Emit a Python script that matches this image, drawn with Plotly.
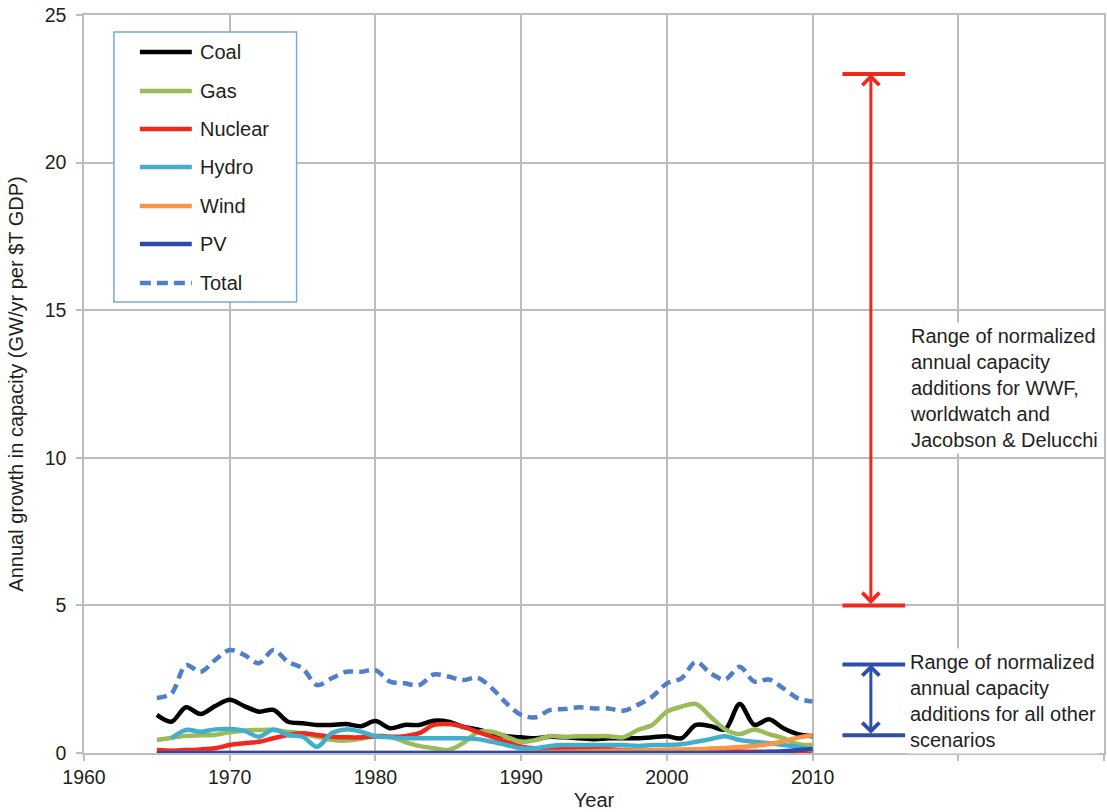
import plotly.graph_objects as go

# ---- data -------------------------------------------------------------
years = list(range(1965, 2011))

coal = [1.29, 1.06, 1.55, 1.32, 1.59, 1.80, 1.59, 1.40, 1.46, 1.06,
        1.01, 0.95, 0.95, 0.98, 0.91, 1.08, 0.84, 0.95, 0.95, 1.09,
        1.06, 0.89, 0.80, 0.67, 0.57, 0.53, 0.50, 0.55, 0.53, 0.50,
        0.47, 0.50, 0.50, 0.50, 0.53, 0.57, 0.50, 0.95, 0.91, 0.80,
        1.66, 0.95, 1.14, 0.84, 0.64, 0.57]

gas = [0.44, 0.52, 0.58, 0.60, 0.62, 0.70, 0.76, 0.78, 0.78, 0.72,
       0.66, 0.55, 0.45, 0.42, 0.48, 0.58, 0.55, 0.38, 0.24, 0.16,
       0.10, 0.33, 0.70, 0.72, 0.55, 0.38, 0.44, 0.57, 0.55, 0.57,
       0.57, 0.57, 0.53, 0.78, 0.95, 1.40, 1.57, 1.66, 1.23, 0.80,
       0.64, 0.80, 0.64, 0.50, 0.30, 0.27]

nuclear = [0.10, 0.08, 0.10, 0.12, 0.16, 0.27, 0.33, 0.38, 0.50, 0.61,
           0.67, 0.61, 0.55, 0.53, 0.53, 0.57, 0.55, 0.57, 0.67, 0.95,
           0.98, 0.89, 0.72, 0.55, 0.38, 0.21, 0.16, 0.12, 0.16, 0.19,
           0.16, 0.13, 0.10, 0.08, 0.07, 0.07, 0.06, 0.06, 0.05, 0.05,
           0.05, 0.04, 0.04, 0.03, 0.02, 0.00]

hydro = [None, 0.50, 0.78, 0.72, 0.80, 0.81, 0.75, 0.55, 0.80, 0.61,
         0.55, 0.21, 0.67, 0.80, 0.72, 0.57, 0.53, 0.50, 0.50, 0.50,
         0.50, 0.50, 0.47, 0.38, 0.27, 0.16, 0.16, 0.24, 0.27, 0.27,
         0.27, 0.27, 0.27, 0.24, 0.27, 0.27, 0.30, 0.38, 0.47, 0.57,
         0.44, 0.38, 0.33, 0.27, 0.21, 0.08]

wind = [0.00, 0.00, 0.00, 0.00, 0.00, 0.00, 0.00, 0.00, 0.00, 0.00,
        0.00, 0.00, 0.00, 0.00, 0.00, 0.00, 0.00, 0.00, 0.00, 0.00,
        0.00, 0.00, 0.00, 0.00, 0.00, 0.01, 0.02, 0.03, 0.04, 0.05,
        0.06, 0.07, 0.08, 0.09, 0.10, 0.11, 0.12, 0.13, 0.15, 0.17,
        0.20, 0.24, 0.30, 0.40, 0.52, 0.60]

pv = [0.00, 0.00, 0.00, 0.00, 0.00, 0.00, 0.00, 0.00, 0.00, 0.00,
      0.00, 0.00, 0.00, 0.00, 0.00, 0.00, 0.00, 0.00, 0.00, 0.00,
      0.00, 0.00, 0.00, 0.00, 0.00, 0.00, 0.00, 0.00, 0.00, 0.00,
      0.00, 0.00, 0.00, 0.00, 0.00, 0.00, 0.00, 0.00, 0.00, 0.00,
      0.00, 0.01, 0.03, 0.06, 0.10, 0.14]

total = [1.86, 2.02, 2.98, 2.75, 3.15, 3.49, 3.32, 3.04, 3.49, 3.09,
         2.87, 2.30, 2.53, 2.75, 2.75, 2.81, 2.42, 2.36, 2.30, 2.66,
         2.59, 2.47, 2.55, 2.19, 1.68, 1.29, 1.21, 1.46, 1.49, 1.55,
         1.51, 1.51, 1.43, 1.63, 1.91, 2.36, 2.53, 3.09, 2.70, 2.49,
         2.92, 2.42, 2.49, 2.19, 1.85, 1.74]

series_names = ["Coal", "Gas", "Nuclear", "Hydro", "Wind", "PV", "Total"]
series_values = [coal, gas, nuclear, hydro, wind, pv, total]

# scenario ranges (GW/yr per $T GDP)
wwf_range = [5.0, 23.0]
other_range = [0.6, 3.0]

wwf_label = ["Range of normalized", "annual capacity", "additions for WWF,",
             "worldwatch and", "Jacobson & Delucchi"]
other_label = ["Range of normalized", "annual capacity",
               "additions for all other", "scenarios"]

x_tick_vals = [1960, 1970, 1980, 1990, 2000, 2010, 2020, 2030]
x_tick_text = ["1960", "1970", "1980", "1990", "2000", "2010", "", ""]

# ---- styling ----------------------------------------------------------
colors = {
    "Coal": "#000000",
    "Gas": "#9BBB59",
    "Nuclear": "#F0281E",
    "Hydro": "#43AECB",
    "Wind": "#F79646",
    "PV": "#2E4AA6",
    "Total": "#4F7FC7",
}
dashes = {name: "solid" for name in series_names}
dashes["Total"] = "10px,6px"

RED = "#F0281E"
BLUE = "#2F4EAA"
GRID = "#BDBDBD"
TEXT = "#231F20"
FONT = "Liberation Sans, Arial, Helvetica, sans-serif"

W, H = 1107, 812
ML, MR, MT, MB = 84, 1, 15, 59
PW, PH = W - ML - MR, H - MT - MB


def px_x(px):
    return (px - ML) / PW


def px_y(py):
    return (H - MB - py) / PH


fig = go.Figure()

for name, vals in zip(series_names, series_values):
    fig.add_trace(go.Scatter(
        x=years, y=vals, name=name, mode="lines",
        line=dict(color=colors[name], width=4.5, dash=dashes[name],
                  shape="spline", smoothing=0.9),
        connectgaps=False, showlegend=False, hoverinfo="x+y+name",
    ))

shapes = []
annotations = []

# range brackets with double-headed arrows
arrow_x = 2014.0
cap_x0, cap_x1 = 2012.05, 2016.35
for rng, col in ((wwf_range, RED), (other_range, BLUE)):
    for v in rng:
        shapes.append(dict(type="line", xref="x", yref="y",
                           x0=cap_x0, x1=cap_x1, y0=v, y1=v,
                           line=dict(color=col, width=4), layer="above"))
    annotations.append(dict(
        x=arrow_x, y=rng[1], ax=arrow_x, ay=rng[0],
        xref="x", yref="y", axref="x", ayref="y",
        text="", showarrow=True, arrowside="end+start",
        arrowhead=4, startarrowhead=4, arrowsize=1.1, startarrowsize=1.1,
        arrowwidth=3, arrowcolor=col, standoff=0, startstandoff=0,
    ))

annotations.append(dict(
    x=2016.5, y=12.36, xref="x", yref="y", xanchor="left", yanchor="middle",
    text="<br>".join(wwf_label), align="left", showarrow=False,
    bgcolor="white", borderpad=2, font=dict(family=FONT, size=20, color=TEXT),
))
annotations.append(dict(
    x=2016.5, y=1.76, xref="x", yref="y", xanchor="left", yanchor="middle",
    text="<br>".join(other_label), align="left", showarrow=False,
    bgcolor="white", borderpad=2, font=dict(family=FONT, size=20, color=TEXT),
))

# legend box
shapes.append(dict(type="rect", xref="paper", yref="paper",
                   x0=px_x(114), x1=px_x(297), y0=px_y(302), y1=px_y(32),
                   fillcolor="white", line=dict(color="#7BA7DA", width=1.5),
                   layer="above"))
legend_rows = [52, 91, 129, 167, 206, 244, 283]
for name, row in zip(series_names, legend_rows):
    shapes.append(dict(type="line", xref="paper", yref="paper",
                       x0=px_x(140), x1=px_x(192), y0=px_y(row), y1=px_y(row),
                       line=dict(color=colors[name], width=4.5,
                                 dash="11px,6px" if name == "Total" else "solid"),
                       layer="above"))
    annotations.append(dict(x=px_x(198), y=px_y(row), xref="paper", yref="paper",
                            xanchor="left", yanchor="middle", text=name,
                            showarrow=False,
                            font=dict(family=FONT, size=20, color=TEXT)))

axis_common = dict(
    showgrid=True, gridcolor=GRID, gridwidth=1.5,
    showline=True, linecolor=GRID, linewidth=1.5, mirror=True,
    ticks="outside", ticklen=6, tickcolor=GRID, tickwidth=1.5,
    tickfont=dict(family=FONT, size=19.5, color=TEXT),
    zeroline=False,
)

fig.update_layout(
    width=W, height=H,
    margin=dict(l=ML, r=MR, t=MT, b=MB, pad=0),
    paper_bgcolor="white", plot_bgcolor="white",
    font=dict(family=FONT, color=TEXT),
    showlegend=False,
    xaxis=dict(range=[1960, 2030], tickmode="array",
               tickvals=x_tick_vals, ticktext=x_tick_text,
               title=dict(text="Year", standoff=6,
                          font=dict(family=FONT, size=20, color=TEXT)),
               **axis_common),
    yaxis=dict(range=[0, 25], tickmode="linear", tick0=0, dtick=5,
               ticklabelstandoff=6,
               title=dict(text="Annual growth in capacity (GW/yr per $T GDP)",
                          standoff=16,
                          font=dict(family=FONT, size=20, color=TEXT)),
               **axis_common),
    shapes=shapes,
    annotations=annotations,
)

fig.write_html("out.html")
